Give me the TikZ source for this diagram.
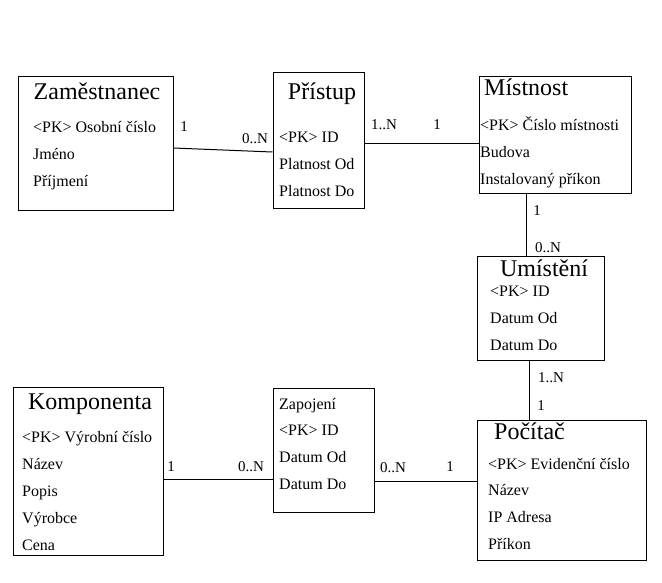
\documentclass[tikz,border=0pt]{standalone}
\usepackage{fontspec}
\setmainfont{Liberation Serif}
\begin{document}
\begin{tikzpicture}[x=1pt,y=-1pt,
  ent/.style={draw,line width=1pt,inner sep=0pt},
  attr/.style={anchor=base west,inner sep=0pt,font=\fontsize{16}{16}\selectfont},
  ttl/.style={anchor=base,inner sep=0pt,font=\fontsize{24}{24}\selectfont},
  card/.style={anchor=base,inner sep=0pt,font=\fontsize{15}{15}\selectfont},
  rel/.style={line width=1pt}]
\useasboundingbox (0,0) rectangle (662,582);
% entity boxes
\node[ent,minimum width=155pt,minimum height=134pt] (zam) at (95.5,143.5) {};
\node[ent,minimum width=91pt,minimum height=136pt] (pri) at (318.5,140) {};
\node[ent,minimum width=152pt,minimum height=117pt] (mis) at (555,134.5) {};
\node[ent,minimum width=127pt,minimum height=104pt] (umi) at (540.5,308) {};
\node[ent,minimum width=150pt,minimum height=168pt] (kom) at (88,471) {};
\node[ent,minimum width=101pt,minimum height=124pt] (zap) at (323.5,450) {};
\node[ent,minimum width=169pt,minimum height=140pt] (poc) at (561.5,490) {};
% Zaměstnanec
\node[ttl] (zamT) at (97,99) {Zaměstnanec};
\node[attr] (zam1) at (33,132) {<PK> Osobní číslo};
\node[attr] (zam2) at (33,159) {Jméno};
\node[attr] (zam3) at (33,186) {Příjmení};
% Přístup
\node[ttl] (priT) at (322,99) {Přístup};
\node[attr] (pri1) at (279,142) {<PK> ID};
\node[attr] (pri2) at (279,169) {Platnost Od};
\node[attr] (pri3) at (279,196) {Platnost Do};
% Místnost
\node[ttl,anchor=base west] (misT) at (484,95) {Místnost};
\node[attr] (mis1) at (480,130) {<PK> Číslo místnosti};
\node[attr] (mis2) at (480,157) {Budova};
\node[attr] (mis3) at (480,184) {Instalovaný příkon};
% Umístění
\node[ttl] (umiT) at (544,276) {Umístění};
\node[attr] (umi1) at (490,296) {<PK> ID};
\node[attr] (umi2) at (490,323) {Datum Od};
\node[attr] (umi3) at (490,350) {Datum Do};
% Komponenta
\node[ttl] (komT) at (90,409) {Komponenta};
\node[attr] (kom1) at (22,442) {<PK> Výrobní číslo};
\node[attr] (kom2) at (22,469) {Název};
\node[attr] (kom3) at (22,496) {Popis};
\node[attr] (kom4) at (22,523) {Výrobce};
\node[attr] (kom5) at (22,550) {Cena};
% Zapojení
\node[attr] (zap1) at (279,409) {Zapojení};
\node[attr] (zap2) at (279,435) {<PK> ID};
\node[attr] (zap3) at (279,462) {Datum Od};
\node[attr] (zap4) at (279,489) {Datum Do};
% Počítač
\node[ttl,anchor=base west] (pocT) at (494,439) {Počítač};
\node[attr] (poc1) at (488,469) {<PK> Evidenční číslo};
\node[attr] (poc2) at (488,495) {Název};
\node[attr] (poc3) at (488,522) {IP Adresa};
\node[attr] (poc4) at (488,549) {Příkon};
% connectors
\draw[rel] (zam.east |- 0,148) -- (pri.west |- 0,152);
\draw[rel] (pri.east |- 0,143) -- (mis.west |- 0,143);
\draw[rel] (mis.south -| 526,0) -- (umi.north -| 526,0);
\draw[rel] (umi.south -| 529,0) -- (poc.north -| 529,0);
\draw[rel] (kom.east |- 0,479) -- (zap.west |- 0,479);
\draw[rel] (zap.east |- 0,481) -- (poc.west |- 0,481);
% cardinalities
\node[card] (c1) at (184,131) {1};
\node[card] (c2) at (255,143) {0..N};
\node[card] (c3) at (384,129) {1..N};
\node[card] (c4) at (437,129) {1};
\node[card] (c5) at (537,215) {1};
\node[card] (c6) at (548,252) {0..N};
\node[card] (c7) at (551,382) {1..N};
\node[card] (c8) at (541,410) {1};
\node[card] (c9) at (171,471) {1};
\node[card] (c10) at (251,471) {0..N};
\node[card] (c11) at (393,472) {0..N};
\node[card] (c12) at (450,471) {1};
\end{tikzpicture}
\end{document}
